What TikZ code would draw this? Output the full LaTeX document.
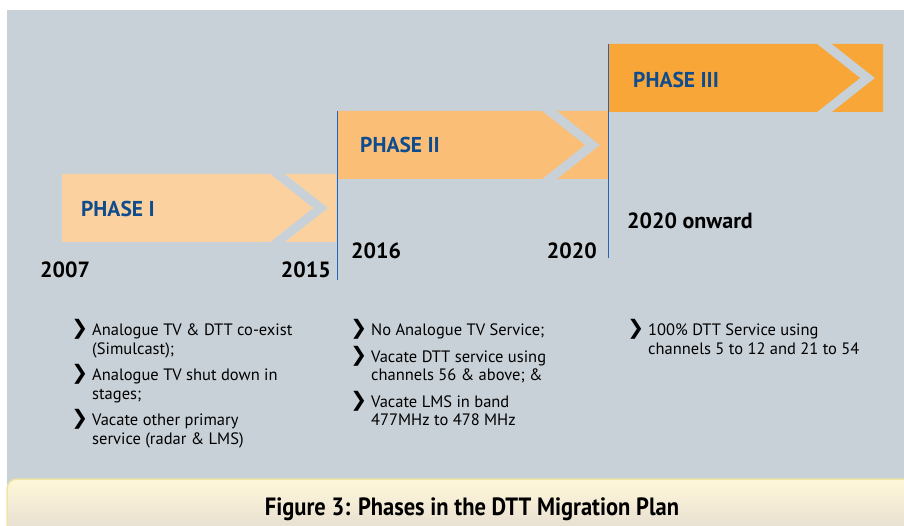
\documentclass[tikz,border=0pt]{standalone}
\usepackage{fontspec}
\setmainfont{PT Sans}
\newfontfamily\capfont[FakeStretch=0.9]{PT Sans}
\newfontfamily\markfont{DejaVu Sans}

\definecolor{panelgray}{HTML}{C9D1D8}
\definecolor{phaseone}{HTML}{FBD29F}
\definecolor{phasetwo}{HTML}{FBBE77}
\definecolor{phasethree}{HTML}{F8A638}
\definecolor{phaseblue}{HTML}{0E4C8E}
\definecolor{tickblue}{HTML}{2B62B5}
\definecolor{barlight}{HTML}{FFF8D9}
\definecolor{bardark}{HTML}{E7DED1}
\definecolor{baredge}{HTML}{EFE4A8}

% Bold chevron in front of each item
\newcommand\stepmark{\llap{\smash{\raisebox{1pt}{\markfont\fontsize{20}{20}\selectfont ❯}}\hspace{4pt}}}

% Arrow of one phase: left edge, top, right edge, fill
\newcommand\phasearrow[4]{%
	\fill[#4] (#1,#2) -- ({#3-66},#2) -- ({#3-23},{#2+34}) -- ({#3-66},{#2+68}) -- (#1,{#2+68}) -- cycle;
	\fill[#4] ({#3-51},#2) -- (#3,#2) -- (#3,{#2+68}) -- ({#3-51},{#2+68}) -- ({#3-8},{#2+34}) -- cycle;
}

\tikzset{
		% Text styles: phase names, years, item lists, caption
		phase label/.style={font=\fontsize{21.5}{24}\selectfont\bfseries,text=phaseblue,inner sep=0},
		year label/.style={font=\fontsize{22}{24}\selectfont\bfseries,inner sep=0},
		item list/.style={font=\fontsize{16.5}{18.5}\selectfont,align=left,inner sep=0,anchor=north west,
			execute at begin node=\rule{0pt}{13pt}},
		caption text/.style={font=\capfont\fontsize{25}{28}\selectfont\bfseries,inner sep=0,anchor=base},
		tick line/.style={draw=tickblue,line width=1pt}
	}

\begin{document}
\begin{tikzpicture}
		[x=1pt,y=-1pt]
		\useasboundingbox (0,0) rectangle (904,526);
		\fill[panelgray] (7,10) rectangle (904,526);

		% the three phases
		\phasearrow{62}{174}{336}{phaseone}
		\phasearrow{337}{111}{608}{phasetwo}
		\phasearrow{608}{44}{883}{phasethree}
		\draw[tick line] (337,111) -- (337,280);
		\draw[tick line] (608,44) -- (608,258);

		\node[phase label,anchor=base west] (p1) at (81,217) {PHASE I};
		\node[phase label,anchor=base west] (p2) at (360,153) {PHASE II};
		\node[phase label,anchor=base west] (p3) at (633,88) {PHASE III};

		\node[year label,anchor=base west] (y2007) at (40,278) {2007};
		\node[year label,anchor=base east] (y2015) at (331,278) {2015};
		\node[year label,anchor=base west] (y2016) at (351,259) {2016};
		\node[year label,anchor=base east] (y2020) at (597,259) {2020};
		\node[year label,anchor=base west] (y2020on) at (627,229) {2020 onward};

		\node[item list] (l1) at (92,324) {%
			\stepmark Analogue TV \& DTT co-exist\\
			(Simulcast);\\[8pt]
			\stepmark Analogue TV shut down in\\
			stages;\\[8pt]
			\stepmark Vacate other primary\\
			service (radar \& LMS)};
		\node[item list] (l2) at (371,324) {%
			\stepmark No Analogue TV Service;\\[8pt]
			\stepmark Vacate DTT service using\\
			channels 56 \& above; \&\\[8pt]
			\stepmark Vacate LMS in band\\
			477MHz to 478 MHz};
		\node[item list] (l3) at (648,324) {%
			\stepmark 100\% DTT Service using\\
			channels 5 to 12 and 21 to 54};

		% caption bar
		\shade[top color=barlight,bottom color=bardark,draw=baredge,line width=1.5pt]
			(7,530) [rounded corners=10pt] -- (7,479) [sharp corners] -- (910,479) -- (910,530) -- cycle;
		\node[caption text] (cap) at (472,515) {Figure 3: Phases in the DTT Migration Plan};
	\end{tikzpicture}
\end{document}
